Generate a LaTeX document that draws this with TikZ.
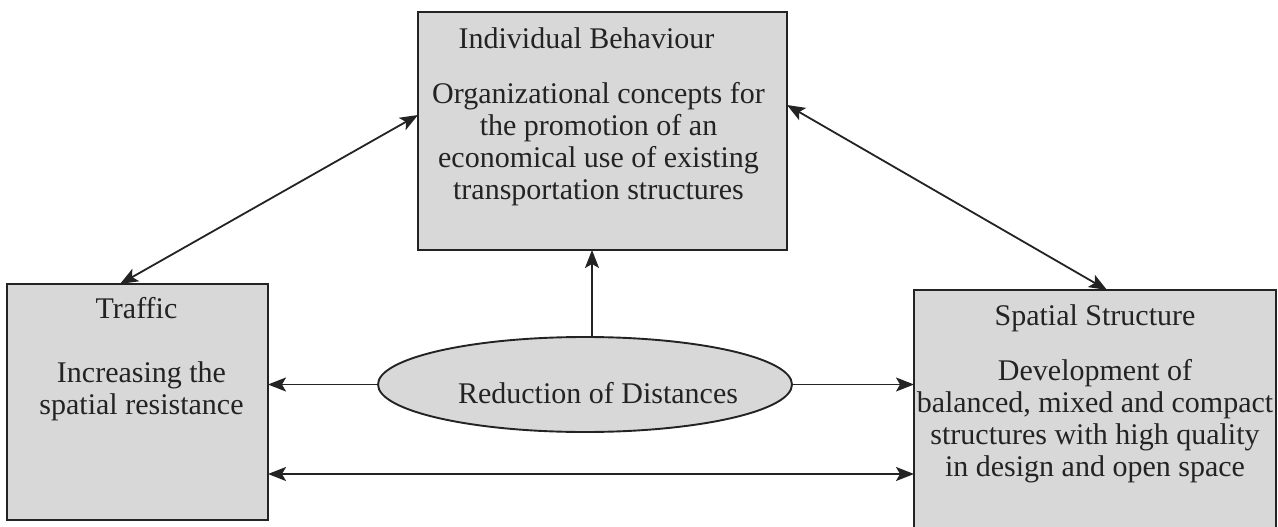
\documentclass[tikz,border=0pt]{standalone}
\usepackage{fontspec}
\setmainfont{Liberation Serif}
\usetikzlibrary{shapes.geometric,arrows.meta}
\definecolor{boxgray}{RGB}{216,216,216}
\definecolor{inkgray}{RGB}{35,35,35}

\begin{document}
\begin{tikzpicture}[x=1pt,y=-1pt]
  \tikzset{BoxStyle/.style = {
    shape         = rectangle,
    draw          = inkgray,
    fill          = boxgray,
    line width    = 1.9pt,
    inner sep     = 0pt,
    outer sep     = 0pt
    }
  }
  \tikzset{EllipseStyle/.style = {
    shape          = ellipse,
    draw           = inkgray,
    fill           = boxgray,
    line width     = 1.9pt,
    inner sep      = 0pt,
    outer sep      = 0pt,
    minimum width  = 414pt,
    minimum height = 95pt
    }
  }
  \tikzset{TextStyle/.style = {
    text          = inkgray,
    font          = \fontsize{30}{32}\selectfont,
    align         = center,
    inner sep     = 0pt,
    anchor        = north
    }
  }
  \tikzset{EdgeStyle/.style = {
    draw          = inkgray,
    line width    = 1.8pt,
    arrows        = {-Stealth[length=18pt,width=14pt,inset=4pt]}
    }
  }
  \tikzset{EdgeStyleBoth/.style = {
    EdgeStyle,
    arrows        = {Stealth[length=18pt,width=14pt,inset=4pt]-Stealth[length=18pt,width=14pt,inset=4pt]}
    }
  }

  \useasboundingbox (0,0) rectangle (1278,527);

  \node[BoxStyle, minimum width=369pt, minimum height=238pt](IB) at (602.5,131) {};
  \node[BoxStyle, minimum width=261pt, minimum height=236pt](TR) at (137.5,402) {};
  \node[BoxStyle, minimum width=362pt, minimum height=250pt](SS) at (1095,415) {};
  \node[EllipseStyle](RD) at (585,384.5) {};

  \node[TextStyle](IBText) at ([xshift=-4pt,yshift=-15.5pt]IB.north) {Individual Behaviour\hspace*{24pt}\\[23pt]Organizational concepts for\\the promotion of an\\economical use of existing\\transportation structures};
  \node[TextStyle](TRText) at ([xshift=4pt,yshift=-13.5pt]TR.north) {Traffic\hspace*{10pt}\\[32pt]Increasing the\\spatial resistance};
  \node[TextStyle](SSText) at ([yshift=-14.5pt]SS.north) {Spatial Structure\\[23pt]Development of\\balanced, mixed and compact\\structures with high quality\\in design and open space};
  \node[TextStyle, anchor=base](RDText) at ([xshift=13pt,yshift=-18.5pt]RD.center) {Reduction of Distances};

  \draw[EdgeStyleBoth] ([yshift=16pt]IB.west) -- ([xshift=-17.5pt]TR.north);
  \draw[EdgeStyleBoth] ([yshift=26pt]IB.east) -- ([xshift=12pt]SS.north);
  \draw[EdgeStyle] ([xshift=7pt]RD.north) -- ([xshift=7pt]RD.north |- IB.south);
  \draw[EdgeStyle] (RD.west) -- (RD.west -| TR.east);
  \draw[EdgeStyle] (RD.east) -- (RD.east -| SS.west);
  \draw[EdgeStyleBoth] ([yshift=-72pt]TR.east) -- ([yshift=-72pt]TR.east -| SS.west);

\end{tikzpicture}
\end{document}
